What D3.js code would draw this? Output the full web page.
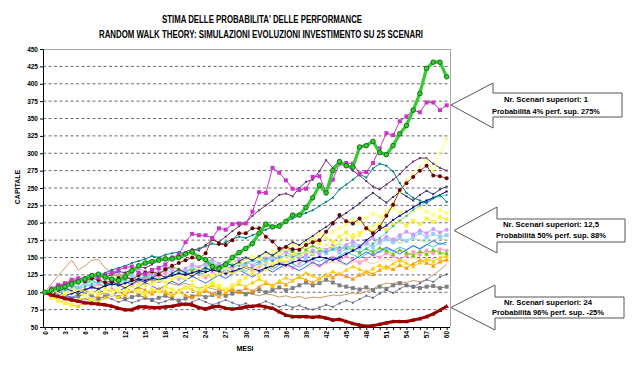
<!DOCTYPE html>
<html><head><meta charset="utf-8">
<script src="https://cdn.jsdelivr.net/npm/d3@7"></script>
<style>body{margin:0;background:#fff}svg{display:block}text{font-family:"Liberation Sans",Arial,sans-serif}</style>
</head><body><svg id="c" width="640" height="366"></svg>
<script>
const titleLines = ["STIMA DELLE PROBABILITA' DELLE PERFORMANCE","RANDOM WALK THEORY: SIMULAZIONI EVOLUZIONI INVESTIMENTO SU 25 SCENARI"];
const months = d3.range(0, 61);
const xTickLabels = [0,3,6,9,12,15,18,21,24,27,30,33,36,39,42,45,48,51,54,57,60];
const yTicks = [50,75,100,125,150,175,200,225,250,275,300,325,350,375,400,425,450];
const yLabel = "CAPITALE", xLabel = "MESI";
const callouts = [
  ["Nr. Scenari superiori: 1","Probabilità 4% perf. sup. 275%"],
  ["Nr. Scenari superiori: 12,5","Probabilità 50% perf. sup. 88%"],
  ["Nr. Scenari superiori: 24","Probabilità 96% perf. sup. -25%"]
];

const sGreen = [100,103,106,108,112,115,119,124,126,122,119,117,122,131,138,142,144,146,148,148,150,155,158,150,147,137,134,140,150,157,163,170,185,198,194,195,202,211,211,222,236,254,243,275,288,282,280,309,311,317,301,298,311,328,340,362,386,422,431,431,410];
const sMagenta = [100,105,110,113,118,120,118,123,121,125,128,132,136,137,128,126,132,135,140,150,154,172,184,182,182,178,192,190,198,199,199,216,244,243,279,272,261,249,247,249,266,267,243,262,285,286,285,271,273,286,307,329,326,346,353,362,359,373,373,362,369];
const sDarkRed = [100,96,94,91,89,87,85,84,83,82,80,77,75,75,79,79,78,78,79,80,82,83,82,78,76,79,80,77,76,77,79,80,81,79,77,72,67,65,65,65,64,65,63,60,61,58,55,53,51,52,54,56,58,58,58,60,62,65,69,74,80];
const sMaroon = [100,103,108,112,115,118,116,120,118,114,116,120,122,118,125,128,130,126,133,138,142,146,150,148,156,178,170,168,175,185,185,192,192,180,173,163,165,162,161,168,172,175,187,199,211,202,199,206,192,185,194,210,226,247,257,266,275,282,268,267,264];
const sPaleYellow = [100,103,99,96,100,104,101,98,102,106,103,100,104,108,112,109,113,117,114,118,122,119,116,120,124,121,126,130,127,131,136,133,138,142,139,145,150,147,153,158,155,162,168,165,172,178,184,181,190,196,200,214,229,244,262,270,281,291,274,300,321];
const sPurple = [100,104,107,111,115,113,118,122,125,121,126,130,128,133,137,135,140,146,150,148,152,158,162,160,168,175,172,180,188,195,200,210,218,225,232,240,242,238,250,259,262,274,290,279,290,282,275,268,260,252,248,255,262,270,280,288,293,293,285,279,275];
const sSlate = [100,96,101,106,102,97,103,108,104,110,115,111,106,112,118,114,120,126,121,127,133,128,123,129,135,131,137,143,138,144,150,146,152,158,153,160,166,172,168,175,181,188,194,201,208,214,221,228,236,243,236,229,237,244,238,232,240,246,241,248,252];
const sCyan = [100,102,99,103,107,105,108,112,115,113,110,114,118,116,120,124,122,118,121,125,128,126,130,127,132,135,133,137,140,138,142,146,144,148,145,150,153,151,155,158,156,160,158,162,165,163,160,158,162,170,178,186,195,203,210,218,225,230,236,238,240];
const sLightYellow = [100,96,93,98,103,99,95,100,106,102,98,104,109,105,111,116,112,118,114,120,125,121,127,132,128,124,130,136,142,138,145,151,147,154,160,156,163,169,165,172,178,183,179,186,192,198,204,200,207,213,209,216,221,215,210,217,222,216,211,218,214];
const sYellow = [100,92,88,84,82,88,94,90,97,101,98,104,100,106,102,99,105,101,108,104,100,106,110,104,108,113,109,104,110,116,121,128,124,133,140,147,143,152,160,168,174,171,178,172,180,186,179,185,192,188,195,190,197,202,196,203,198,206,201,208,205];
const sLavender = [100,106,111,108,115,120,116,123,119,126,131,127,122,128,134,130,125,131,137,133,128,134,140,136,142,147,141,136,142,148,144,139,145,151,146,152,158,153,148,154,160,155,161,167,162,168,173,167,172,178,174,180,176,182,187,183,189,185,191,186,190];
const sLightBlue = [100,95,99,104,100,107,112,108,115,120,116,111,117,123,119,126,121,127,133,128,124,130,136,131,137,143,138,133,139,134,140,146,141,147,152,147,142,148,154,149,155,160,156,162,157,163,168,164,170,165,171,176,172,178,174,180,185,179,184,180,182];
const sBlue = [100,96,101,97,92,97,102,98,104,99,95,101,107,102,108,114,109,104,110,116,111,117,123,118,113,119,125,120,126,132,127,122,128,134,129,135,141,136,131,137,143,138,144,150,145,140,146,152,158,153,159,165,160,155,161,167,162,168,174,169,172];
const sAqua = [100,104,99,105,110,106,112,117,113,108,114,120,116,111,117,123,119,114,120,126,122,117,123,129,125,120,126,132,128,134,130,136,142,138,133,139,145,141,136,142,148,144,150,146,152,158,154,149,155,161,157,163,159,165,161,167,163,169,165,171,168];
const sLime = [100,105,110,106,112,117,113,119,124,120,126,122,128,133,129,124,130,126,132,137,133,128,134,130,136,141,137,132,138,144,140,146,151,147,153,158,163,159,165,161,167,162,158,164,160,166,161,157,163,158,164,160,155,161,157,153,159,155,161,157,156];
const sGold = [100,94,89,85,82,80,85,90,86,92,97,93,99,104,100,95,101,106,102,97,103,108,104,99,105,110,106,101,107,112,108,114,119,115,110,116,121,117,123,128,124,119,125,130,126,132,137,133,128,134,139,135,141,146,142,137,143,148,144,150,152];
const sOrange = [100,97,93,98,103,99,94,90,95,100,105,101,96,102,107,103,98,104,99,95,100,96,92,97,102,98,94,99,104,100,106,102,108,113,109,115,111,117,122,118,114,120,125,121,127,123,119,125,130,126,132,137,133,139,135,141,146,142,138,144,147];
const sTan = [100,112,124,135,146,132,138,146,147,135,128,124,120,122,118,121,117,114,116,112,110,113,109,106,108,105,102,104,101,98,100,97,95,98,96,93,95,92,94,91,93,92,94,96,95,97,99,98,101,105,110,113,112,115,114,117,115,118,125,132,140];
const sGrayCircle = [100,97,93,96,92,88,91,87,90,94,90,86,89,85,88,92,88,84,87,91,87,83,86,90,86,82,85,89,85,81,84,80,83,87,83,79,82,78,81,77,75,78,82,79,84,88,85,90,95,92,98,103,99,105,110,107,113,118,115,122,126];
const sGraySquare = [100,96,92,95,91,94,98,95,91,94,97,93,90,93,96,92,89,92,95,91,88,91,94,97,93,96,99,95,98,101,97,100,104,100,103,107,103,106,110,114,110,113,118,114,110,108,106,104,107,103,108,105,110,113,110,108,106,108,109,106,108];
const sRose = [100,104,99,105,110,106,101,107,112,108,114,119,115,110,116,121,117,123,128,124,119,125,130,126,121,127,133,129,135,140,136,131,137,142,138,144,139,135,141,147,143,138,144,150,146,152,147,142,148,154,150,156,152,147,153,158,154,160,156,162,160];
const sLightGreen = [100,102,104,107,110,108,112,115,113,117,120,118,122,125,123,127,130,128,132,135,133,130,134,137,140,138,142,145,143,147,150,148,152,155,153,157,160,158,155,158,161,164,162,166,169,167,164,168,171,169,173,176,174,171,174,177,175,172,175,178,175];
const sNavy = [100,102,99,96,98,101,104,107,105,109,112,110,113,116,119,117,120,118,121,124,127,125,128,131,129,132,130,127,130,133,136,134,131,135,138,141,139,143,146,144,148,151,149,146,150,155,160,165,175,182,190,196,204,210,216,222,228,232,236,240,245];
const sTeal = [100,103,107,110,114,118,122,126,124,128,132,135,138,142,145,148,152,150,154,156,158,155,160,163,166,170,168,172,176,180,178,182,186,190,194,198,202,206,210,214,218,224,230,236,248,255,262,270,265,278,285,282,274,257,243,236,232,228,235,240,230];
const sPeach = [100,104,101,98,102,105,103,107,110,108,112,115,113,117,114,111,115,118,121,119,123,126,124,128,125,122,126,129,127,131,134,132,129,133,136,134,138,135,132,136,139,137,141,144,142,139,143,146,144,141,145,148,146,143,147,150,148,145,149,146,145];

const series = [
  {v:sPeach, c:"#ffcc99", m:"none"},
  {v:sLightGreen, c:"#a8e8a8", m:"none"},
  {v:sRose, c:"#ff99cc", m:"circle", f:"#ff99cc"},
  {v:sTan, c:"#cc9966", m:"none"},
  {v:sGraySquare, c:"#808080", m:"square", f:"#808080"},
  {v:sGrayCircle, c:"#8a8aa0", m:"small", f:"#666688"},
  {v:sOrange, c:"#ff9900", m:"tri", f:"#ff9900"},
  {v:sGold, c:"#ffcc00", m:"tri", f:"#ffcc00"},
  {v:sLime, c:"#99cc00", m:"tri", f:"#66cc00"},
  {v:sAqua, c:"#33cccc", m:"none"},
  {v:sBlue, c:"#3366ff", m:"none"},
  {v:sLightBlue, c:"#99ccff", m:"square", f:"#99ccff"},
  {v:sLavender, c:"#cc99ff", m:"circle", f:"#cc99ff"},
  {v:sYellow, c:"#ffee44", m:"square", f:"#ffee44"},
  {v:sLightYellow, c:"#ffff99", m:"square", f:"#ffff88"},
  {v:sCyan, c:"#66dddd", m:"small", f:"#33aaaa"},
  {v:sNavy, c:"#000080", m:"small", f:"#000080"},
  {v:sTeal, c:"#008080", m:"small", f:"#008080"},
  {v:sSlate, c:"#333366", m:"small", f:"#333366"},
  {v:sPurple, c:"#663366", m:"small", f:"#663366"},
  {v:sPaleYellow, c:"#ffff66", m:"small", f:"#eeee44"},
  {v:sMaroon, c:"#993333", m:"circle", f:"#660000", w:1},
  {v:sDarkRed, c:"#990000", m:"tri", f:"#990000", w:3},
  {v:sMagenta, c:"#cc33cc", m:"square", f:"#cc33cc", w:1},
  {v:sGreen, c:"#33cc33", m:"ocircle", f:"#33cc33", s:"#116611", w:3.2}
];

const svg = d3.select("#c");
svg.append("rect").attr("width",640).attr("height",366).attr("fill","#fff");
const L = 43, R = 450, T = 49, B = 327;
const x = d3.scalePoint().domain(months).range([41.5, 450]).padding(0.5);
const y = d3.scaleLinear().domain([50, 450]).range([B, T]);

svg.append("text").attr("x",262).attr("y",23.3).attr("text-anchor","middle").attr("font-size",10).attr("font-weight","bold")
  .attr("textLength",200).attr("lengthAdjust","spacingAndGlyphs").text(titleLines[0]);
svg.append("text").attr("x",261).attr("y",37.7).attr("text-anchor","middle").attr("font-size",10).attr("font-weight","bold")
  .attr("textLength",324).attr("lengthAdjust","spacingAndGlyphs").text(titleLines[1]);

svg.append("g").selectAll("line").data(yTicks.filter(d => d > 50 && d < 450)).join("line")
  .attr("x1",L).attr("x2",R).attr("y1",d => y(d)).attr("y2",d => y(d))
  .attr("stroke","#444").attr("stroke-width",0.8).attr("stroke-dasharray","3,2.5");
svg.append("line").attr("x1",L).attr("x2",R).attr("y1",T+0.5).attr("y2",T+0.5).attr("stroke","#a8a8a8");
svg.append("line").attr("x1",R+0.5).attr("x2",R+0.5).attr("y1",T).attr("y2",B).attr("stroke","#a8a8a8");

const ya = svg.append("g").attr("transform",`translate(${L},0)`).call(d3.axisLeft(y).tickValues(yTicks).tickSize(3).tickSizeOuter(0));
ya.select(".domain").attr("stroke","#000");
ya.selectAll("text").attr("font-size",6.5).attr("font-weight","bold").attr("x",-5).attr("font-family","Liberation Sans, Arial");
const xa = svg.append("g").attr("transform",`translate(0,${B})`).call(d3.axisBottom(x).tickValues(months).tickSize(3).tickSizeOuter(0)
  .tickFormat(d => xTickLabels.includes(d) ? d : ""));
xa.select(".domain").attr("d",`M${L},0.5H${R}`).attr("stroke","#000");
xa.selectAll("text").attr("font-size",6.5).attr("font-weight","bold").attr("font-family","Liberation Sans, Arial")
  .attr("transform","rotate(-90)").attr("text-anchor","end").attr("x",-4).attr("y",0).attr("dy","0.35em");

svg.append("text").attr("transform","translate(19.5,187) rotate(-90)").attr("text-anchor","middle")
  .attr("font-size",7).attr("font-weight","bold").text(yLabel);
svg.append("text").attr("x",245).attr("y",351).attr("text-anchor","middle")
  .attr("font-size",7).attr("font-weight","bold").text(xLabel);

const line = d3.line().x((d,i) => x(months[i])).y(d => y(d));
const plot = svg.append("g");
series.forEach(s => {
  plot.append("path").attr("d", line(s.v)).attr("fill","none").attr("stroke", s.c).attr("stroke-width", s.w || 1);
  const g = plot.append("g");
  s.v.forEach((v,i) => {
    const cx = x(months[i]), cy = y(v);
    if (s.m === "circle") g.append("circle").attr("cx",cx).attr("cy",cy).attr("r",2).attr("fill",s.f);
    else if (s.m === "ocircle") g.append("circle").attr("cx",cx).attr("cy",cy).attr("r",2.3).attr("fill",s.f).attr("stroke",s.s).attr("stroke-width",0.9);
    else if (s.m === "square") g.append("rect").attr("x",cx-2).attr("y",cy-2).attr("width",4).attr("height",4).attr("fill",s.f);
    else if (s.m === "tri") g.append("path").attr("d",`M${cx},${cy-2.3}L${cx+2.3},${cy+1.8}L${cx-2.3},${cy+1.8}Z`).attr("fill",s.f);
    else if (s.m === "small") g.append("rect").attr("x",cx-1).attr("y",cy-1).attr("width",2).attr("height",2).attr("fill",s.f);
  });
});

const boxes = [
  {tip:451, head:493, right:622, top:93, bot:117, hTop:83, hBot:128, l1:102, l2:114, cx:546, w1:84, w2:108},
  {tip:454, head:497, right:625, top:219, bot:242, hTop:207, hBot:253, l1:226.7, l2:237.7, cx:551, w1:96, w2:110},
  {tip:451, head:495, right:624, top:297, bot:318, hTop:285, hBot:330, l1:304.5, l2:314.5, cx:548, w1:88, w2:112}
];
boxes.forEach((b,i) => {
  const tipY = (b.top + b.bot)/2;
  svg.append("path").attr("d",`M${b.tip},${tipY}L${b.head},${b.hTop}V${b.top}H${b.right}V${b.bot}H${b.head}V${b.hBot}Z`)
    .attr("fill","#fff").attr("stroke","#555").attr("stroke-width",1);
  svg.append("text").attr("x",b.cx).attr("y",b.l1).attr("text-anchor","middle").attr("font-size",7.5).attr("font-weight","bold")
    .attr("textLength",b.w1).attr("lengthAdjust","spacingAndGlyphs").text(callouts[i][0]);
  svg.append("text").attr("x",b.cx).attr("y",b.l2).attr("text-anchor","middle").attr("font-size",7.5).attr("font-weight","bold")
    .attr("textLength",b.w2).attr("lengthAdjust","spacingAndGlyphs").text(callouts[i][1]);
});
</script></body></html>
